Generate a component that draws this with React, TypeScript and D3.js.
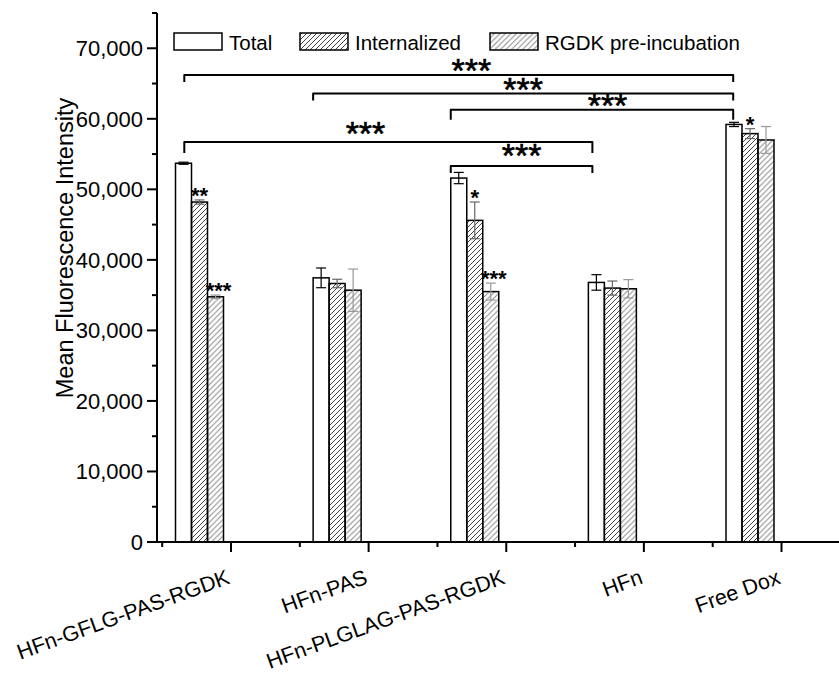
import React from "react";
import * as d3 from "d3";

const categories = ["HFn-GFLG-PAS-RGDK", "HFn-PAS", "HFn-PLGLAG-PAS-RGDK", "HFn", "Free Dox"];
const seriesNames = ["Total", "Internalized", "RGDK pre-incubation"];
const totalValues = [53700, 37450, 51600, 36800, 59200];
const totalErrors = [150, 1400, 800, 1100, 300];
const internalizedValues = [48200, 36650, 45600, 36000, 57900];
const internalizedErrors = [300, 600, 2600, 1000, 700];
const rgdkValues = [34760, 35700, 35500, 35900, 57000];
const rgdkErrors = [250, 3000, 1200, 1300, 1900];
const yTickValues = [0, 10000, 20000, 30000, 40000, 50000, 60000, 70000];
// significance markers above bars: [category, series, label]
const barMarks: [number, number, string][] = [
  [0, 1, "**"],
  [0, 2, "***"],
  [2, 1, "*"],
  [2, 2, "***"],
  [4, 1, "*"],
];
// comparison brackets: [fromCategory, toCategory, level value, label]
const brackets: [number, number, number, string][] = [
  [0, 4, 66200, "***"],
  [1, 4, 63600, "***"],
  [2, 4, 61300, "***"],
  [0, 3, 56700, "***"],
  [2, 3, 53300, "***"],
];

// layout for bracket ends (fraction across the Total bar) and label position (fraction along bracket)
const bracketLayout = [
  { fromFrac: 0.55, toFrac: 0.45, labelFrac: 0.523, drop: 7, labelUp: 9 },
  { fromFrac: 0.0, toFrac: 0.45, labelFrac: 0.5, drop: 7, labelUp: 8 },
  { fromFrac: 0.0, toFrac: 0.45, labelFrac: 0.555, drop: 10, labelUp: 8 },
  { fromFrac: 0.55, toFrac: 0.25, labelFrac: 0.444, drop: 11, labelUp: 13 },
  { fromFrac: 0.0, toFrac: 0.25, labelFrac: 0.5, drop: 7, labelUp: 15 },
];

const W = 839;
const H = 675;
const FONT = "'Liberation Sans', Arial, sans-serif";

export default function App() {
  const y = d3.scaleLinear().domain([0, 75000]).range([542, 13]);
  const xCat = d3.scaleLinear().domain([0, categories.length - 1]).range([231, 781.5]);
  const inner = d3.scaleBand<string>().domain(seriesNames).range([0, 48]).padding(0);
  const groupOffset = -55.5;
  const bw = inner.bandwidth();
  const fmt = d3.format(",");

  const series = [
    { name: seriesNames[0], values: totalValues, errors: totalErrors, fill: "#fff", err: "#000" },
    { name: seriesNames[1], values: internalizedValues, errors: internalizedErrors, fill: "url(#hatchDark)", err: "#666" },
    { name: seriesNames[2], values: rgdkValues, errors: rgdkErrors, fill: "url(#hatchLight)", err: "#999" },
  ];

  const barX = (ci: number, si: number) => xCat(ci) + groupOffset + (inner(seriesNames[si]) as number);

  const yMinor = d3.range(0, 75001, 5000).filter((v) => v % 10000 !== 0);
  const xMinor = d3.range(-0.5, categories.length - 0.5, 1);

  const legendX = [174, 300, 490];
  const bracketFs = 34;

  return (
    <svg width={W} height={H} style={{ position: "absolute", left: 0, top: 0, background: "#fff" }} fontFamily={FONT}>
      <defs>
        <pattern id="hatchDark" patternUnits="userSpaceOnUse" width="5" height="5">
          <path d="M-1,1 l2,-2 M0,5 l5,-5 M4,6 l2,-2" stroke="#444" strokeWidth="1" />
        </pattern>
        <pattern id="hatchLight" patternUnits="userSpaceOnUse" width="5.5" height="5.5">
          <path d="M-1,1 l2,-2 M0,5.5 l5.5,-5.5 M4.5,6.5 l2,-2" stroke="#888" strokeWidth="1" />
        </pattern>
      </defs>
      <rect x={0} y={0} width={W} height={H} fill="#fff" />

      {/* bars */}
      {series.map((s, si) =>
        s.values.map((v, ci) => {
          const x0 = barX(ci, si);
          return (
            <rect key={`b${si}-${ci}`} x={x0} y={y(v)} width={bw} height={y(0) - y(v)} fill={s.fill} stroke="#000" strokeWidth={1.5} />
          );
        })
      )}
      {/* error bars */}
      {series.map((s, si) =>
        s.values.map((v, ci) => {
          const cx = barX(ci, si) + bw / 2;
          const hi = y(v + s.errors[ci]);
          const lo = y(v - s.errors[ci]);
          return (
            <g key={`e${si}-${ci}`} stroke={s.err} strokeWidth={1.2}>
              <line x1={cx} x2={cx} y1={hi} y2={lo} />
              <line x1={cx - 5} x2={cx + 5} y1={hi} y2={hi} />
              <line x1={cx - 5} x2={cx + 5} y1={lo} y2={lo} />
            </g>
          );
        })
      )}

      {/* significance above bars */}
      {barMarks.map(([ci, si, lab], i) => {
        const s = series[si];
        const cx = barX(ci, si) + bw / 2 + (lab.length > 2 ? 3 : 0);
        const top = y(s.values[ci] + s.errors[ci]) - 8;
        return (
          <text key={`m${i}`} x={cx} y={top + 0.5 * 22} textAnchor="middle" fontSize={22} fontWeight="bold" fill="#000">
            {lab}
          </text>
        );
      })}

      {/* brackets */}
      {brackets.map(([a, b, lvl, lab], i) => {
        const L = bracketLayout[i];
        const x1 = barX(a, 0) + L.fromFrac * bw;
        const x2 = barX(b, 0) + L.toFrac * bw;
        const yy = y(lvl);
        const path = d3.path();
        path.moveTo(x1, yy + L.drop);
        path.lineTo(x1, yy);
        path.lineTo(x2, yy);
        path.lineTo(x2, yy + L.drop);
        const tx = x1 + (x2 - x1) * L.labelFrac;
        const ty = yy - L.labelUp;
        return (
          <g key={`br${i}`}>
            <path d={path.toString()} fill="none" stroke="#000" strokeWidth={2} strokeLinejoin="round" />
            <text x={tx} y={ty + 0.46 * bracketFs} textAnchor="middle" fontSize={bracketFs} fill="#000" stroke="#000" strokeWidth={0.6}>
              {lab}
            </text>
          </g>
        );
      })}

      {/* y axis */}
      <line x1={157} x2={157} y1={y(0) + 1} y2={y(75000)} stroke="#000" strokeWidth={2} />
      {yTickValues.map((v) => (
        <g key={`yt${v}`}>
          <line x1={147} x2={157} y1={y(v)} y2={y(v)} stroke="#000" strokeWidth={2} />
          <text x={143} y={y(v)} dy="0.35em" textAnchor="end" fontSize={22} fill="#000">
            {fmt(v)}
          </text>
        </g>
      ))}
      {yMinor.map((v) => (
        <line key={`ym${v}`} x1={152} x2={157} y1={y(v)} y2={y(v)} stroke="#000" strokeWidth={2} />
      ))}
      <text transform={`translate(73,${248}) rotate(-90)`} textAnchor="middle" fontSize={23.5} fill="#000">
        Mean Fluorescence Intensity
      </text>

      {/* x axis */}
      <line x1={156} x2={W} y1={y(0)} y2={y(0)} stroke="#000" strokeWidth={2} />
      {categories.map((c, i) => (
        <g key={`xt${i}`}>
          <line x1={xCat(i)} x2={xCat(i)} y1={y(0)} y2={y(0) + 10} stroke="#000" strokeWidth={2} />
          <text transform={`translate(${xCat(i)},${583}) rotate(-20)`} textAnchor="end" fontSize={21.5} fill="#000">
            {c}
          </text>
        </g>
      ))}
      {xMinor.map((v) => (
        <line key={`xm${v}`} x1={xCat(v)} x2={xCat(v)} y1={y(0)} y2={y(0) + 5} stroke="#000" strokeWidth={2} />
      ))}

      {/* legend */}
      {series.map((s, i) => (
        <g key={`lg${i}`}>
          <rect x={legendX[i]} y={33} width={48} height={17} fill={s.fill} stroke="#000" strokeWidth={1.5} />
          <text x={legendX[i] + 55} y={50} fontSize={20.5} fill="#000">
            {s.name}
          </text>
        </g>
      ))}
    </svg>
  );
}
